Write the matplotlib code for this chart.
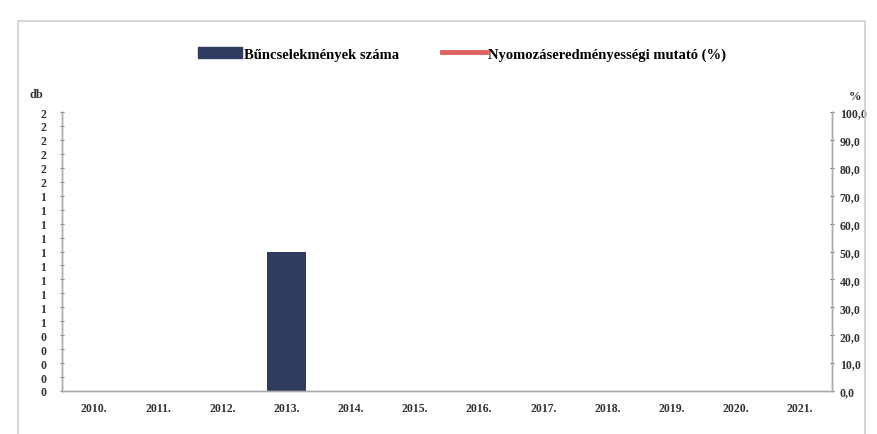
import matplotlib
matplotlib.use("Agg")
import matplotlib.pyplot as plt
import numpy as np
from matplotlib.patches import Rectangle
from matplotlib.lines import Line2D
from matplotlib.ticker import FixedLocator, FuncFormatter
from decimal import Decimal, ROUND_HALF_UP

years = ["2010.", "2011.", "2012.", "2013.", "2014.", "2015.", "2016.", "2017.", "2018.", "2019.", "2020.", "2021."]
counts = [0, 0, 0, 1, 0, 0, 0, 0, 0, 0, 0, 0]
percent = [np.nan] * 12  # line not visible in the picture
bar_label = "Bűncselekmények száma"
line_label = "Nyomozáseredményességi mutató (%)"

plt.rcParams['font.family'] = ['Liberation Serif', 'DejaVu Serif']
plt.rcParams['font.weight'] = 'bold'

W, H = 877, 435
fig = plt.figure(figsize=(W / 100, H / 100), dpi=100)
fig.patch.set_facecolor('white')

# outer chart border
fig.patches.append(Rectangle((18 / W, -0.01), (865 - 18) / W, (435 - 22) / H + 0.01,
                             transform=fig.transFigure, fill=False, edgecolor='#d0d0d0', lw=1.2))

left, right, top, bottom = 62, 832, 113, 392
ax = fig.add_axes([left / W, 1 - bottom / H, (right - left) / W, (bottom - top) / H])
ax2 = ax.twinx()

x = np.arange(len(years))
ax.bar(x, counts, width=0.62, color='#2f3c60', edgecolor='none', zorder=2)
ax.set_xlim(-0.5, len(years) - 0.5)
ax.set_ylim(0, 2.0)
ax2.set_ylim(0, 100)
ax2.plot(x, percent, color='#e06060', lw=2.5)

ax.set_xticks(x)
ax.set_xticklabels(years, fontsize=8.5, fontweight='bold', color='#333333')
ax.tick_params(axis='x', length=0, pad=8)

lt = np.round(np.arange(0, 2.01, 0.1), 1)
ax.yaxis.set_major_locator(FixedLocator(lt))
ax.yaxis.set_major_formatter(FuncFormatter(
    lambda v, p: str(int(Decimal(str(round(v, 1))).quantize(Decimal('1'), rounding=ROUND_HALF_UP)))))
ax.tick_params(axis='y', labelsize=8.5, colors='#777777', length=3, direction='inout', pad=10)
for t in ax.get_yticklabels():
    t.set_color('#333333')

rt = np.arange(0, 101, 10)
ax2.yaxis.set_major_locator(FixedLocator(rt))
ax2.yaxis.set_major_formatter(FuncFormatter(lambda v, p: f"{v:.1f}".replace('.', ',')))
ax2.tick_params(axis='y', labelsize=8.5, colors='#777777', length=3, direction='inout', pad=4)
for t in ax2.get_yticklabels():
    t.set_color('#333333')

for a in (ax, ax2):
    a.spines['top'].set_visible(False)
    for s in ('left', 'right', 'bottom'):
        a.spines[s].set_color('#aaaaaa')
        a.spines[s].set_linewidth(1.0)
    a.set_facecolor('none')

fig.text(30 / W, 1 - 95 / H, "db", fontsize=9, fontweight='bold', color='#333333', va='center')
fig.text(855 / W, 1 - 97 / H, "%", fontsize=9, fontweight='bold', color='#333333', va='center', ha='center')

handles = [Rectangle((0, 0), 1, 1, color='#2f3c60'), Line2D([0], [0], color='#e06060', lw=3.5)]
fig.legend(handles, [bar_label, line_label], loc='center', bbox_to_anchor=(462 / W, 1 - 55 / H),
           ncol=2, frameon=False, handlelength=3.0, columnspacing=3.0, handletextpad=0.1,
           prop={'weight': 'bold', 'size': 10.5})

fig.savefig("out.png", dpi=100)
